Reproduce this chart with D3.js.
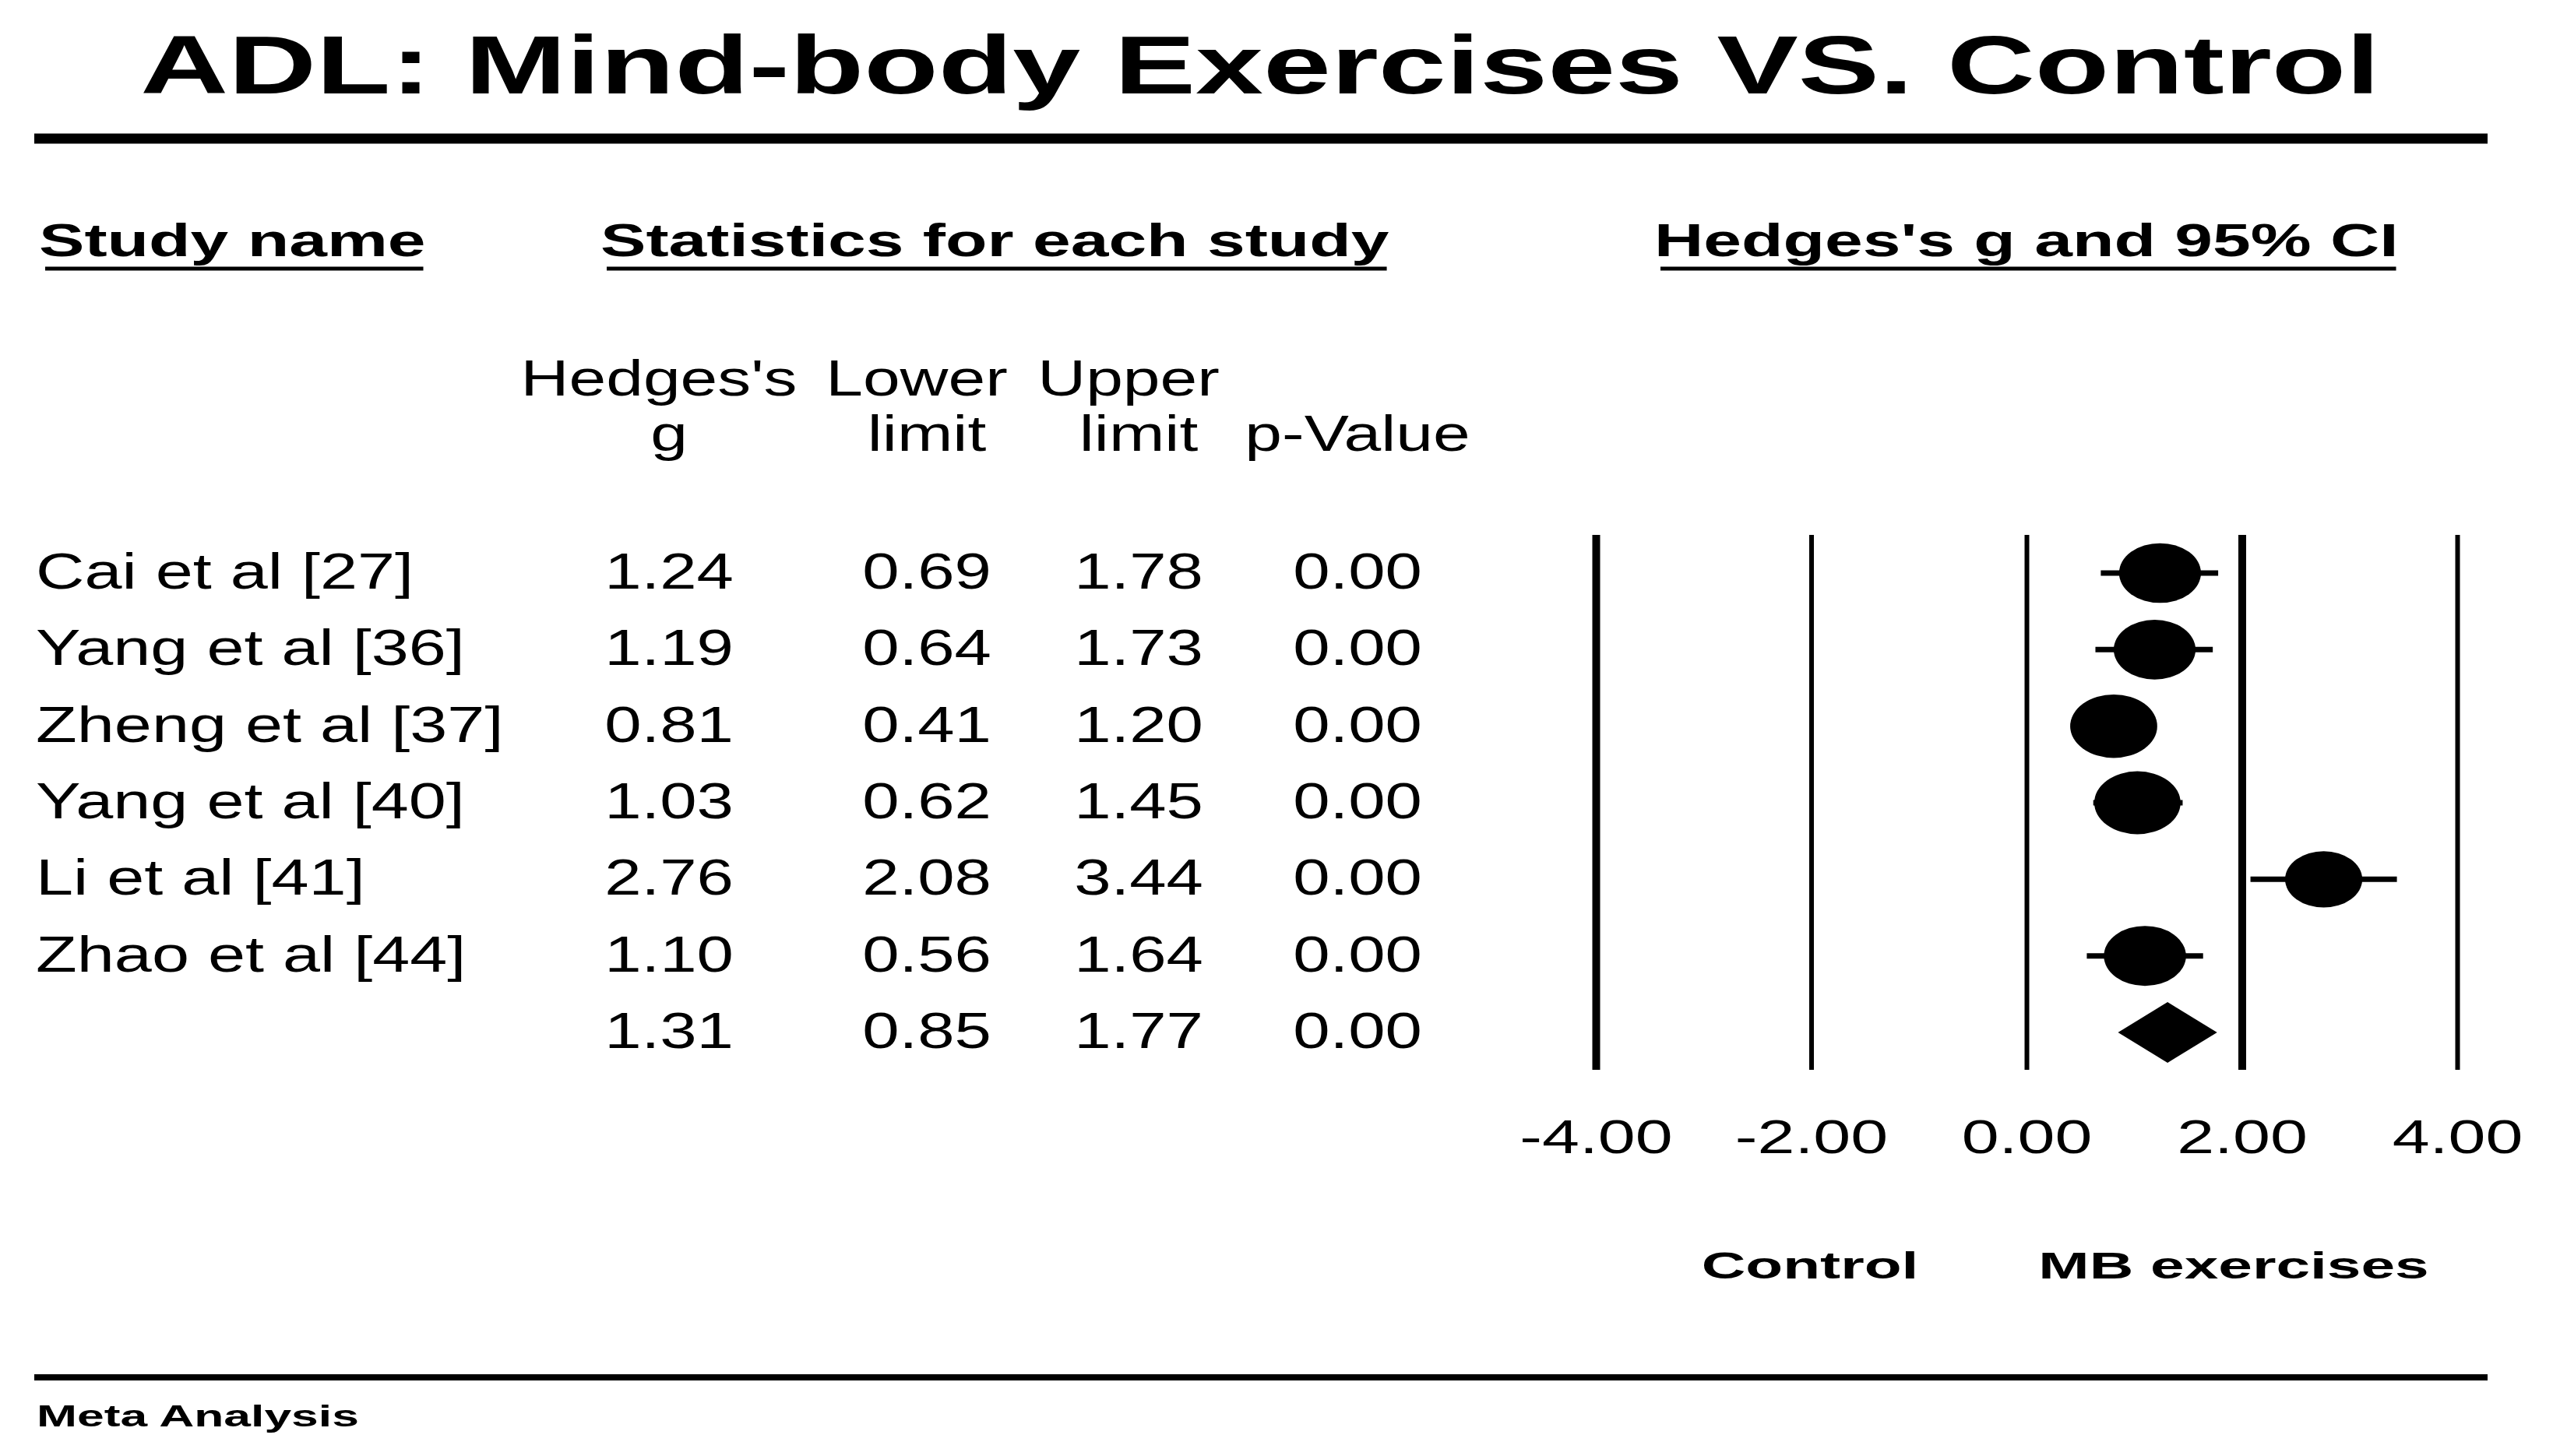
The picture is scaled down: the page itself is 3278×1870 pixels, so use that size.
<!DOCTYPE html>
<html>
<head>
<meta charset="utf-8">
<script src="https://cdn.jsdelivr.net/npm/d3@7"></script>
<style>
  body { margin: 0; background: #fff; }
</style>
</head>
<body>
<svg id="forest"></svg>
<script>
// Study data
const studyNames = ["Cai et al [27]", "Yang et al [36]", "Zheng et al [37]", "Yang et al [40]", "Li et al [41]", "Zhao et al [44]"];
const hedgesG = [1.24, 1.19, 0.81, 1.03, 2.76, 1.10];
const lowerLimit = [0.69, 0.64, 0.41, 0.62, 2.08, 0.56];
const upperLimit = [1.78, 1.73, 1.20, 1.45, 3.44, 1.64];
const pValue = [0.00, 0.00, 0.00, 0.00, 0.00, 0.00];
// relative weights (%)
const weights = [16.3, 16.3, 18.4, 18.1, 14.5, 16.4];

// pooled result: g, lower, upper, p
const summaryStats = [1.31, 0.85, 1.77, 0.00];

const xTicks = [-4, -2, 0, 2, 4];
const headerLine1 = ["Hedges's", "Lower", "Upper", ""];
const headerLine2 = ["g", "limit", "limit", "p-Value"];
const sectionTitles = ["Study name", "Statistics for each study", "Hedges's g and 95% CI"];
const sideLabels = ["Control", "MB exercises"];

const width = 3278, height = 1870;
const FONT = "'Liberation Sans', Arial, sans-serif";

const svg = d3.select("#forest")
    .attr("width", width)
    .attr("height", height)
    .style("background", "#fff");

// the source image is pulled wide, so stretch each text horizontally
function stretch(sel, factor, anchor) {
    sel.each(function() {
        const t = d3.select(this);
        const w = this.getComputedTextLength() * factor;
        t.attr("textLength", w)
            .attr("lengthAdjust", "spacingAndGlyphs")
            .attr("text-anchor", "start");
        const x = +t.attr("x") || 0;
        if (anchor === "middle") t.attr("x", x - w / 2);
        else if (anchor === "end") t.attr("x", x - w);
    });
}

// Scales
const xScale = d3.scaleLinear().domain([-4, 4]).range([2049, 3155]);
const yRow = d3.scaleLinear().domain([0, 6]).range([736, 1326]);
const rScale = d3.scaleSqrt().domain([0, 20]).range([0, 42.5]);
const colX = [859, 1190, 1462, 1743];

// Title and rules
svg.append("text")
    .attr("x", 1618).attr("y", 120)
    .attr("font-family", FONT).attr("font-weight", "bold").attr("font-size", 106)
    .text("ADL: Mind-body Exercises VS. Control")
    .call(stretch, 1.475, "middle");

svg.append("line")
    .attr("x1", 44).attr("x2", 3194).attr("y1", 178).attr("y2", 178)
    .attr("stroke", "#000").attr("stroke-width", 13);

svg.append("line")
    .attr("x1", 44).attr("x2", 3194).attr("y1", 1769).attr("y2", 1769)
    .attr("stroke", "#000").attr("stroke-width", 8);

// Section headers with underlines
const sectionX = [50, 771, 2124];
sectionTitles.forEach((s, i) => {
    const t = svg.append("text")
        .attr("x", sectionX[i]).attr("y", 329)
        .attr("font-family", FONT).attr("font-weight", "bold").attr("font-size", 60)
        .text(s)
        .call(stretch, 1.46, "start");
    const w = +t.attr("textLength");
    svg.append("line")
        .attr("x1", sectionX[i] + 8).attr("x2", sectionX[i] + w - 3)
        .attr("y1", 345).attr("y2", 345)
        .attr("stroke", "#000").attr("stroke-width", 5);
});

// Column headers (first line sits a little left of the column centre)
[headerLine1, headerLine2].forEach((line, k) => {
    svg.selectAll(null)
        .data(line)
        .enter().append("text")
        .attr("x", (d, i) => colX[i] - (k === 0 ? 13 : 0))
        .attr("y", k === 0 ? 508 : 579)
        .attr("font-family", FONT).attr("font-size", 64)
        .text(d => d)
        .call(stretch, 1.34, "middle");
});

// Study names
svg.selectAll(".name")
    .data(studyNames)
    .enter().append("text")
    .attr("class", "name")
    .attr("x", 46)
    .attr("y", (d, i) => yRow(i) + 20)
    .attr("font-family", FONT).attr("font-size", 64)
    .text(d => d)
    .call(stretch, 1.35, "start");

// Statistics table (studies + pooled row)
const statCols = [hedgesG, lowerLimit, upperLimit, pValue];
statCols.forEach((col, c) => {
    svg.selectAll(null)
        .data(col.concat([summaryStats[c]]))
        .enter().append("text")
        .attr("x", colX[c])
        .attr("y", (d, i) => yRow(i) + 20)
        .attr("font-family", FONT).attr("font-size", 64)
        .text(d => d.toFixed(2))
        .call(stretch, 1.33, "middle");
});

// Axis with full-height tick lines
const xAxis = svg.append("g")
    .attr("transform", "translate(0,1374)")
    .call(d3.axisBottom(xScale)
        .tickValues(xTicks)
        .tickSizeInner(-(1374 - 687))
        .tickSizeOuter(0)
        .tickFormat(d => d.toFixed(2)));

xAxis.select(".domain").remove();
xAxis.selectAll(".tick line")
    .attr("stroke", "#000")
    .attr("stroke-width", d => (d === -4 || d === 2) ? 10 : 6);
xAxis.selectAll(".tick text")
    .attr("x", 0).attr("y", 107).attr("dy", null)
    .attr("fill", "#000")
    .attr("font-family", FONT).attr("font-size", 62)
    .call(stretch, 1.39, "middle");

// Confidence intervals
svg.selectAll(".ci")
    .data(hedgesG)
    .enter().append("line")
    .attr("class", "ci")
    .attr("x1", (d, i) => xScale(lowerLimit[i]))
    .attr("x2", (d, i) => xScale(upperLimit[i]))
    .attr("y1", (d, i) => yRow(i))
    .attr("y2", (d, i) => yRow(i))
    .attr("stroke", "#000").attr("stroke-width", 7);

// Point estimates, sized by weight
svg.selectAll(".marker")
    .data(hedgesG)
    .enter().append("ellipse")
    .attr("class", "marker")
    .attr("cx", d => xScale(d))
    .attr("cy", (d, i) => yRow(i))
    .attr("rx", (d, i) => rScale(weights[i]) * 1.37)
    .attr("ry", (d, i) => rScale(weights[i]))
    .attr("fill", "#000");

// Pooled diamond
const yPool = yRow(6);
svg.append("path")
    .attr("d", d3.line()([
        [xScale(summaryStats[1]), yPool],
        [xScale(summaryStats[0]), yPool - 39],
        [xScale(summaryStats[2]), yPool],
        [xScale(summaryStats[0]), yPool + 39]
    ]) + "Z")
    .attr("fill", "#000");

// Favours labels
const sideX = [2324, 2868];
svg.selectAll(".side")
    .data(sideLabels)
    .enter().append("text")
    .attr("class", "side")
    .attr("x", (d, i) => sideX[i])
    .attr("y", 1642)
    .attr("font-family", FONT).attr("font-weight", "bold").attr("font-size", 49)
    .text(d => d)
    .call(stretch, 1.6, "middle");

// Footer
svg.append("text")
    .attr("x", 47).attr("y", 1832)
    .attr("font-family", FONT).attr("font-weight", "bold").attr("font-size", 39)
    .text("Meta Analysis")
    .call(stretch, 1.6, "start");
</script>
</body>
</html>
